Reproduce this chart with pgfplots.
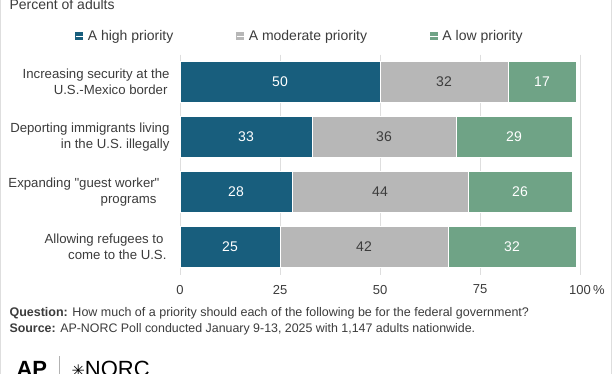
\documentclass[border=0pt]{standalone}
\usepackage{pgfplots}
\pgfplotsset{compat=1.18}
\usepackage{fontspec}
\setmainfont{Liberation Sans}
\newfontfamily\symfont{DejaVu Sans}
\definecolor{high}{RGB}{24,94,125}
\definecolor{mod}{RGB}{183,183,183}
\definecolor{low}{RGB}{111,163,134}
\definecolor{txt}{RGB}{60,60,60}
\definecolor{gridc}{RGB}{222,222,222}
\begin{document}
\begin{tikzpicture}
\useasboundingbox (0pt,0pt) rectangle (612pt,374pt);
\fill[white] (0pt,0pt) rectangle (612pt,374pt);
\draw[gridc, line width=1pt] (0.5pt,0pt) -- (0.5pt,374pt);
\draw[gridc, line width=1pt] (611.5pt,0pt) -- (611.5pt,374pt);
\begin{axis}[
  at={(180pt,99.5pt)}, anchor=south west,
  scale only axis, width=400pt, height=220pt,
  xbar stacked, bar width=41pt,
  xmin=0, xmax=100, ymin=-0.5, ymax=3.5, y dir=reverse,
  axis line style={draw=none},
  xtick={0,25,50,75,100},
  xticklabels={0,25,50,75,100\rlap{\,\%}},
  xmajorgrids, major grid style={gridc, line width=0.8pt},
  ytick={0,1,2,3},
  yticklabels={{Increasing security at the\\U.S.-Mexico border\hspace*{2pt}},
               {Deporting immigrants living\\in the U.S. illegally},
               {Expanding \textquotedbl guest worker\textquotedbl\hspace*{10pt}\\programs\hspace*{13pt}},
               {Allowing refugees to\hspace*{6pt}\\come to the U.S.\hspace*{3pt}}},
  yticklabel style={align=right, text=txt, font=\fontsize{13.2}{15.5}\selectfont, xshift=-7pt},
  xticklabel style={text=txt, font=\fontsize{13}{15}\selectfont, yshift=-7pt},
  major tick length=0pt,
  legend columns=3,
  legend style={at={(0.3,1.084)}, anchor=center, draw=none, fill=none,
    font=\fontsize{14}{16}\selectfont, text=txt,
    /tikz/every even column/.append style={column sep=61pt},
    inner sep=0pt},
  legend cell align=left,
]
\addplot[fill=high, draw=white, line width=0.4pt, legend image code/.code={\fill[high] (0pt,-3.5pt) rectangle (7pt,3.5pt); \path (0pt,0pt) -- (10pt,0pt);}] coordinates {(50,0) (33,1) (28,2) (25,3)};
\addlegendentry{A high priority}
\addplot[fill=mod, draw=white, line width=0.4pt, legend image code/.code={\fill[mod] (0pt,-3.5pt) rectangle (7pt,3.5pt); \path (0pt,0pt) -- (10pt,0pt);}] coordinates {(32,0) (36,1) (44,2) (42,3)};
\addlegendentry{A moderate priority}
\addplot[fill=low, draw=white, line width=0.4pt, legend image code/.code={\fill[low] (0pt,-3.5pt) rectangle (7pt,3.5pt); \path (0pt,0pt) -- (10pt,0pt);}] coordinates {(17,0) (29,1) (26,2) (32,3)};
\addlegendentry{A low priority}
\end{axis}
\begin{axis}[
  at={(180pt,99.5pt)}, anchor=south west,
  scale only axis, width=400pt, height=220pt,
  xmin=0, xmax=100, ymin=-0.5, ymax=3.5, y dir=reverse,
  hide axis,
  nodes near coords, point meta=explicit symbolic, nodes near coords align=center,
  every node near coord/.append style={font=\fontsize{14}{16}\selectfont},
]
\addplot[draw=none, mark=none, every node near coord/.append style={text=white}] coordinates {(25,0) [50] (16.5,1) [33] (14,2) [28] (12.5,3) [25]};
\addplot[draw=none, mark=none, every node near coord/.append style={text=txt}] coordinates {(66,0) [32] (51,1) [36] (50,2) [44] (46,3) [42]};
\addplot[draw=none, mark=none, every node near coord/.append style={text=white}] coordinates {(90.5,0) [17] (83.5,1) [29] (85,2) [26] (83,3) [32]};
\end{axis}
\node[anchor=west, text=txt, font=\fontsize{14}{16}\selectfont] at (6pt,369pt) {Percent of adults};
\node[anchor=west, text=txt, font=\fontsize{12.5}{14}\selectfont] at (6pt,61pt) {\textbf{Question:} How much of a priority should each of the following be for the federal government?};
\node[anchor=west, text=txt, font=\fontsize{12.4}{14}\selectfont] at (6pt,45pt) {\textbf{Source:} AP-NORC Poll conducted January 9-13, 2025 with 1,147 adults nationwide.};
\node[anchor=west, font=\fontsize{22}{24}\selectfont\bfseries, text=black] at (13pt,5pt) {AP};
\draw[gray!60, line width=0.8pt] (59pt,0pt) -- (59pt,18pt);
\node[anchor=west, font=\fontsize{22}{24}\selectfont, text=black] at (68pt,5pt) {{\symfont\fontsize{16}{18}\selectfont ✳}NORC};
\end{tikzpicture}
\end{document}
